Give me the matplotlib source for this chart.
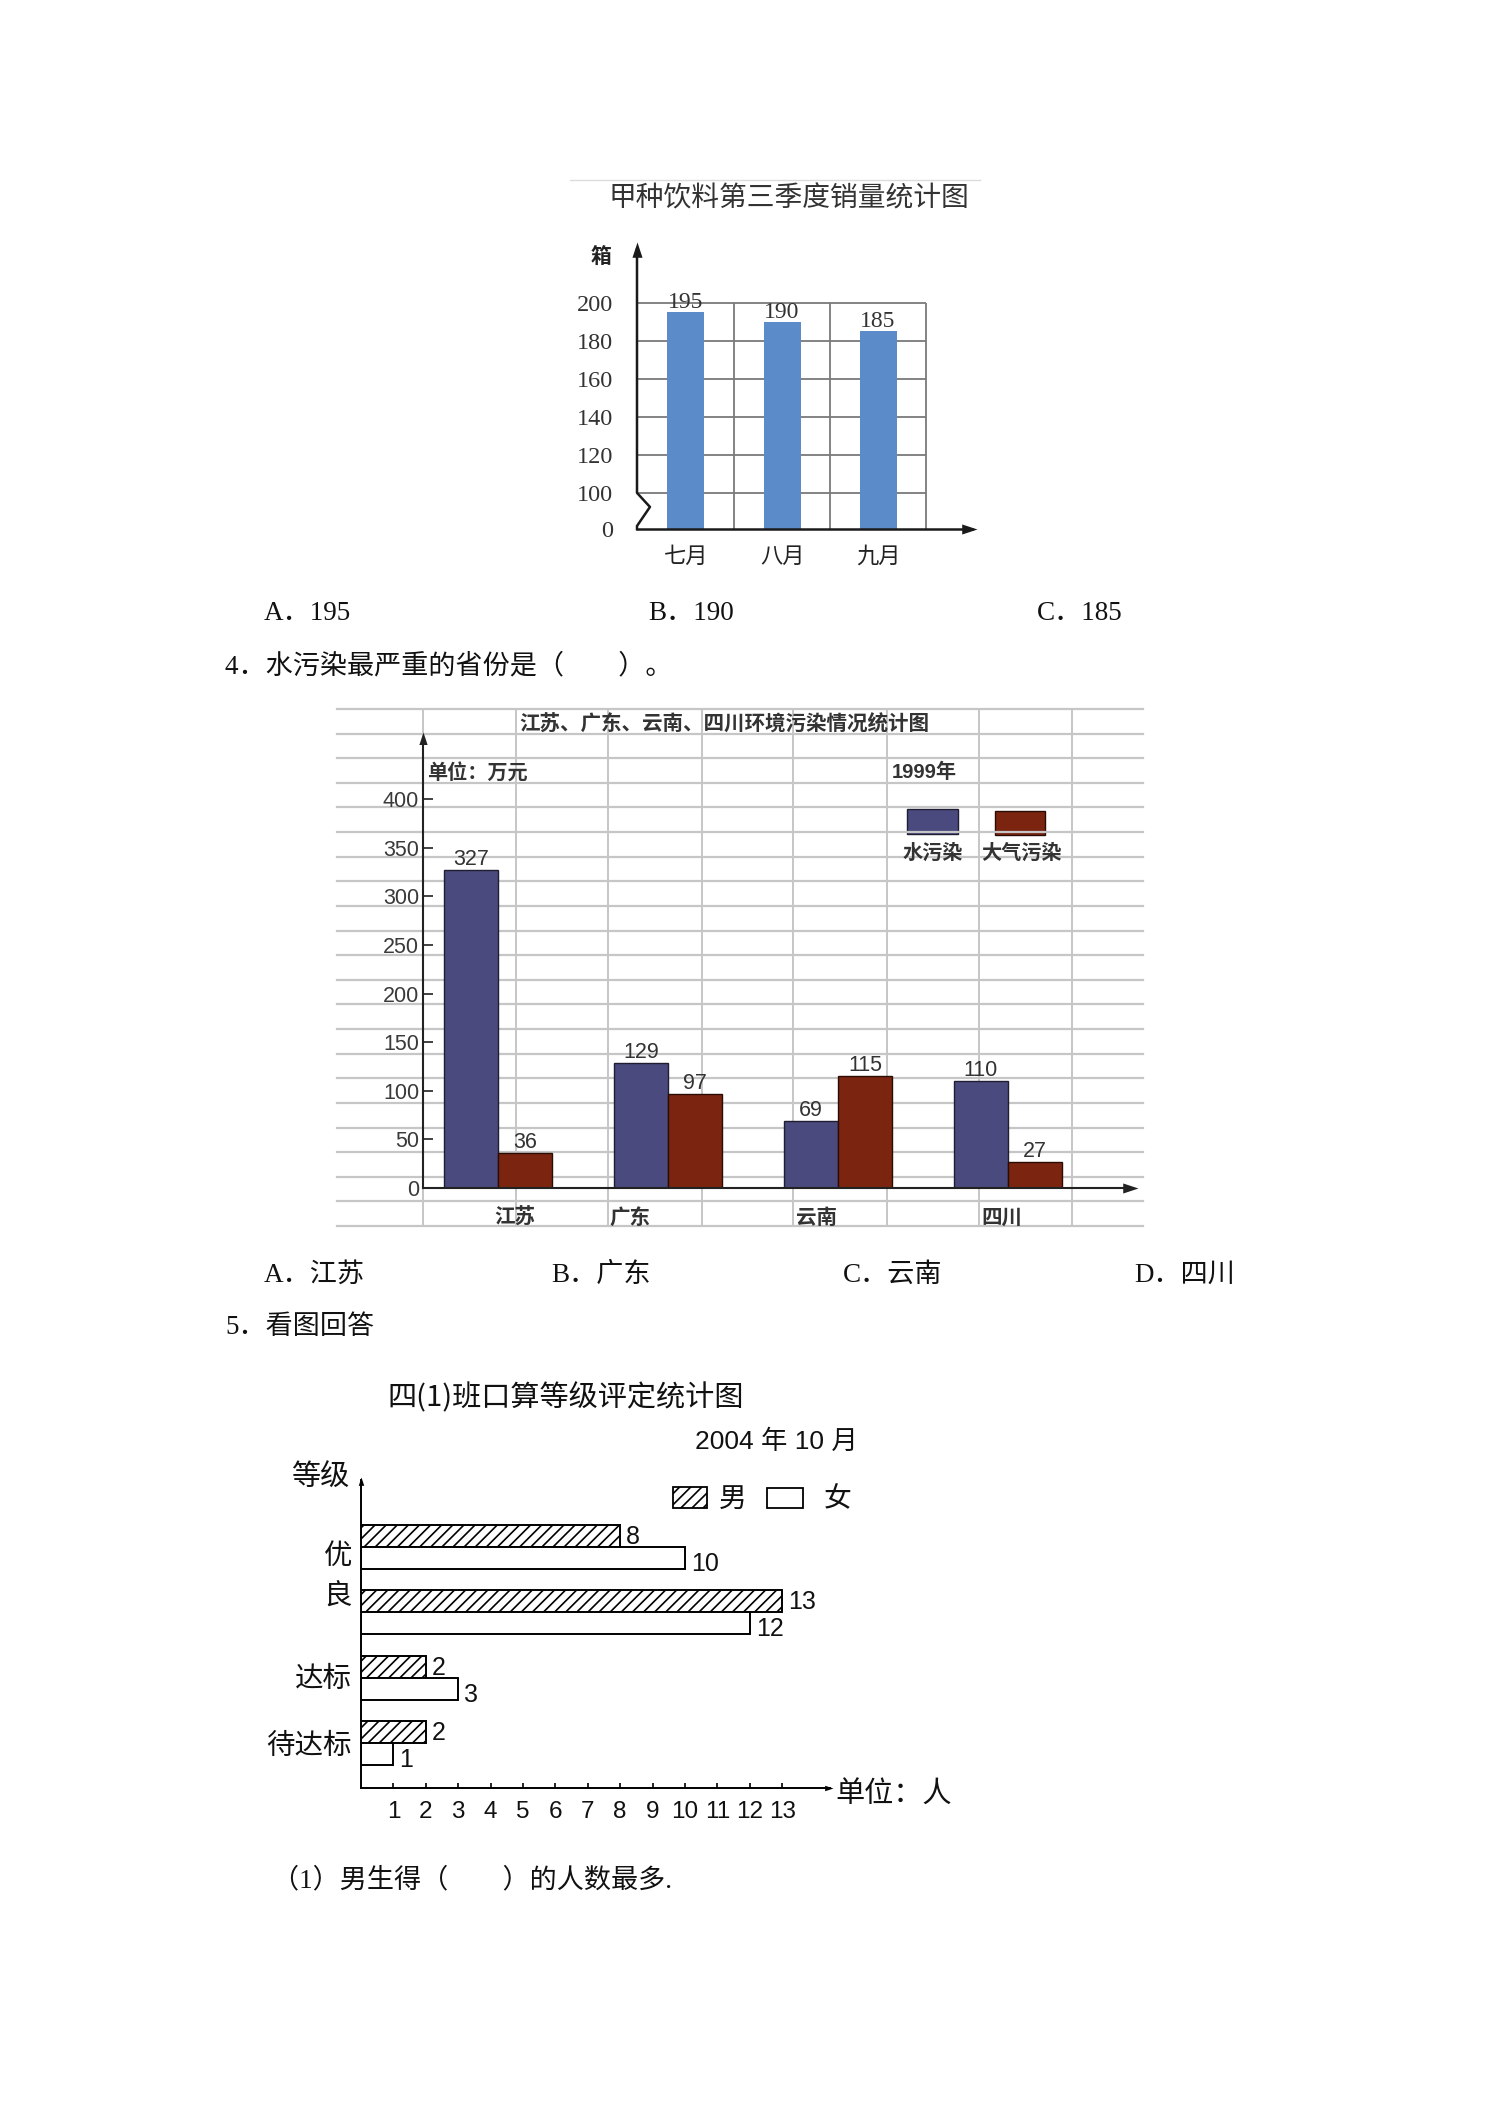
import matplotlib
matplotlib.use('Agg')
import matplotlib.pyplot as plt
import numpy as np
from matplotlib.patches import Rectangle

# ---- chart 1: 甲种饮料第三季度销量 ----
months = ['七月', '八月', '九月']
sales = [195, 190, 185]
sales_ticks = [100, 120, 140, 160, 180, 200]

# ---- chart 2: 环境污染情况 (万元, 1999年) ----
provinces = ['江苏', '广东', '云南', '四川']
water = [327, 129, 69, 110]
air = [36, 97, 115, 27]
pollution_ticks = [0, 50, 100, 150, 200, 250, 300, 350, 400]
pollution_series = ['水污染', '大气污染']

# ---- chart 3: 四(1)班口算等级 ----
grades = ['优', '良', '达标', '待达标']
boys = [8, 13, 2, 2]
girls = [10, 12, 3, 1]
count_ticks = list(range(1, 14))

W, H = 1488, 2104
CJK = 'Noto Sans CJK SC'
SERIF = ['Liberation Serif', CJK]
SANS = ['Liberation Sans', CJK]
NARROW = ['Liberation Sans Narrow', 'Liberation Sans', CJK]
plt.rcParams['font.family'] = [CJK, 'DejaVu Sans']
plt.rcParams['hatch.linewidth'] = 1.2

fig = plt.figure(figsize=(W / 100, H / 100), dpi=100)
page = fig.add_axes([0, 0, 1, 1], zorder=0)
page.set_xlim(0, W)
page.set_ylim(H, 0)
page.axis('off')


def pt(px):
    return px * 0.72


def chart_axes(left, top, right, bottom):
    ax = fig.add_axes([left / W, 1 - bottom / H, (right - left) / W, (bottom - top) / H], zorder=1)
    ax.patch.set_visible(False)
    for s in ax.spines.values():
        s.set_visible(False)
    return ax


RIGHT = [(0, 0), (-1, 0.33), (-1, -0.33), (0, 0)]
UP = [(0, 0), (-0.33, -1), (0.33, -1), (0, 0)]


def arrow_head(ax, x, y, verts, ms, color):
    ax.plot([x], [y], marker=verts, ms=ms, mfc=color, mec=color, mew=0, clip_on=False, zorder=5)


# ================= chart 1 =================
page.plot([570, 980], [180, 180], color='#dcdcdc', lw=1)
page.text(789, 198, '甲种饮料第三季度销量统计图', fontsize=20, color='#333333', ha='center', va='center')

ax1 = chart_axes(637, 242, 977, 529)
base1 = 81
xl1, xr1, yt1 = -0.51, 3.03, 232
ax1.set_xlim(xl1, xr1)
ax1.set_ylim(base1, yt1)
x1 = np.arange(len(months))
ax1.hlines(sales_ticks, xl1, 2.5, color='#7a7a7a', lw=1.3, zorder=1)
ax1.vlines([0.5, 1.5, 2.5], base1, 200, color='#7a7a7a', lw=1.3, zorder=1)
ax1.bar(x1, np.array(sales) - base1, bottom=base1, width=0.385, color='#5b8bc9', zorder=2)
for xi, v in zip(x1, sales):
    ax1.annotate(str(v), (xi, v), xytext=(0, pt(4)), textcoords='offset points', ha='center',
                 va='baseline', fontsize=17, family=SERIF, color='#333333')
ax1.set_yticks([base1] + sales_ticks, ['0'] + [str(t) for t in sales_ticks])
ax1.set_xticks(x1, months)
ax1.tick_params(axis='y', length=0, pad=pt(24), labelsize=17.5, labelcolor='#333333')
ax1.tick_params(axis='x', length=0, pad=pt(16), labelsize=16, labelcolor='#222222')
for lab in ax1.get_yticklabels():
    lab.set_family(SERIF)
ax1.plot([xl1, xl1, xl1 + 0.135, xl1, xl1], [yt1 - 4, 100, 92.6, 82.6, base1],
         color='#1a1a1a', lw=1.8, clip_on=False, zorder=4)
ax1.plot([xl1, xr1 - 0.05], [base1, base1], color='#1a1a1a', lw=1.8, clip_on=False, zorder=4)
arrow_head(ax1, xr1, base1, RIGHT, 22, '#1a1a1a')
arrow_head(ax1, xl1, yt1, UP, 22, '#1a1a1a')
ax1.text(xl1 - 0.37, 224, '箱', fontsize=15, fontweight='bold', color='#222222', ha='center', va='center')

# ================= chart 2 =================
for y in np.linspace(709, 1226, 22):
    page.plot([337, 1143], [y, y], color='#c6c6c6', lw=1.6)
for x in [423, 516, 608, 702, 793, 887, 979, 1072]:
    page.plot([x, x], [709, 1226], color='#c6c6c6', lw=1.4)
page.text(724, 724, '江苏、广东、云南、四川环境污染情况统计图', fontsize=14.8, fontweight='bold',
          color='#333333', ha='center', va='center')
page.text(427, 772, '单位：万元', fontsize=14.5, fontweight='bold', color='#333333', ha='left', va='center')
page.text(892, 772, '1999年', fontsize=14.5, fontweight='bold', color='#333333', ha='left', va='center',
          family=NARROW)

water_c, air_c = '#4a4a7e', '#7b2511'
page.add_patch(Rectangle((907, 809), 51, 25, facecolor=water_c, edgecolor='#1e1e30', lw=1))
page.add_patch(Rectangle((995, 811), 50, 24, facecolor=air_c, edgecolor='#2a0c05', lw=1))
page.text(933, 852, pollution_series[0], fontsize=14.5, fontweight='bold', color='#333333', ha='center', va='center')
page.text(1021, 852, pollution_series[1], fontsize=14.5, fontweight='bold', color='#333333', ha='center', va='center')

ax2 = chart_axes(423, 732, 1138, 1188)
xl2, xr2, yt2 = -0.441, 3.765, 469
ax2.set_xlim(xl2, xr2)
ax2.set_ylim(0, yt2)
x2 = np.arange(len(provinces))
bw2 = 0.318
ax2.bar(x2 - bw2 / 2, water, width=bw2, color=water_c, edgecolor='#1e1e30', lw=1, zorder=2)
ax2.bar(x2 + bw2 / 2, air, width=bw2, color=air_c, edgecolor='#2a0c05', lw=1, zorder=2)
for xs, vals in ((x2 - bw2 / 2, water), (x2 + bw2 / 2, air)):
    for xi, v in zip(xs, vals):
        ax2.annotate(str(v), (xi, v), xytext=(0, pt(5)), textcoords='offset points', ha='center',
                     va='baseline', fontsize=15.5, family=NARROW, color='#333333')
ax2.set_yticks(pollution_ticks)
ax2.tick_params(axis='y', direction='in', length=pt(10), width=1.3, color='#333333', pad=pt(4),
                labelsize=15.5, labelcolor='#3a3a3a')
for lab in ax2.get_yticklabels():
    lab.set_family(NARROW)
ax2.set_xticks([0.1, 0.776, 1.876, 2.965], provinces)
ax2.tick_params(axis='x', length=0, pad=pt(19), labelsize=14.8, labelcolor='#333333')
for lab in ax2.get_xticklabels():
    lab.set_fontweight('bold')
ax2.plot([xl2, xr2 - 0.04], [0, 0], color='#222222', lw=1.5, clip_on=False, zorder=4)
ax2.plot([xl2, xl2], [0, yt2 - 8], color='#222222', lw=1.5, clip_on=False, zorder=4)
arrow_head(ax2, xr2, 0, RIGHT, 22, '#222222')
arrow_head(ax2, xl2, yt2, UP, 18, '#222222')

# ================= chart 3 =================
page.text(566, 1398, '四(1)班口算等级评定统计图', fontsize=21, color='#111111', ha='center', va='center')
page.text(695, 1442, '2004 年 10 月', fontsize=19, family=SANS, color='#111111', ha='left', va='center')
page.text(349, 1478, '等级', fontsize=21, color='#111111', ha='right', va='center')
page.text(835, 1795, '单位：人', fontsize=21, color='#111111', ha='left', va='center')
page.add_patch(Rectangle((673, 1487), 34, 21, facecolor='white', edgecolor='black', lw=1.3, hatch='///'))
page.text(733, 1499, '男', fontsize=20, color='#111111', ha='center', va='center')
page.add_patch(Rectangle((767, 1488), 36, 20, facecolor='white', edgecolor='black', lw=1.3))
page.text(838, 1499, '女', fontsize=20, color='#111111', ha='center', va='center')

ax3 = chart_axes(361, 1477, 833, 1788)
xr3, yb3, yt3 = 14.57, 3.69, -1.072
ax3.set_xlim(0, xr3)
ax3.set_ylim(yb3, yt3)
y3 = np.arange(len(grades))
bh3 = 0.337
ax3.barh(y3 - bh3 / 2, boys, height=bh3, color='white', edgecolor='black', hatch='///', lw=1.4, zorder=2)
ax3.barh(y3 + bh3 / 2, girls, height=bh3, color='white', edgecolor='black', lw=1.4, zorder=2)
for ys, vals, dy in ((y3 - bh3 / 2, boys, -1), (y3 + bh3 / 2, girls, -6)):
    for yi, v in zip(ys, vals):
        ax3.annotate(str(v), (v, yi), xytext=(pt(6), pt(dy)), textcoords='offset points', ha='left',
                     va='center', fontsize=18, family=SANS, color='#111111')
ax3.set_xticks(count_ticks)
ax3.tick_params(axis='x', direction='in', length=pt(5), width=1.2, color='black', pad=pt(13),
                labelsize=17.5, labelcolor='#111111')
for lab in ax3.get_xticklabels():
    lab.set_family(SANS)
ax3.set_yticks([0.08, 0.7, 1.96, 3.0], grades)
ax3.tick_params(axis='y', length=0, pad=pt(9), labelsize=20.5, labelcolor='#111111')
ax3.plot([0, xr3 - 0.1], [yb3, yb3], color='black', lw=1.4, clip_on=False, zorder=4)
ax3.plot([0, 0], [yb3, yt3 + 0.05], color='black', lw=1.4, clip_on=False, zorder=4)
arrow_head(ax3, xr3, yb3, RIGHT, 12, 'black')
arrow_head(ax3, 0, yt3, UP, 12, 'black')

# ================= question text =================
fq = 19.5
for x, s in ((264, 'A．195'), (648, 'B．190'), (1037, 'C．185')):
    page.text(x, 613, s, fontsize=fq, family=SERIF, color='#111111', ha='left', va='center')
page.text(225, 667, '4．水污染最严重的省份是（　　）。', fontsize=fq, family=SERIF, color='#111111', ha='left', va='center')
for x, s in ((264, 'A．江苏'), (551, 'B．广东'), (843, 'C．云南'), (1134, 'D．四川')):
    page.text(x, 1275, s, fontsize=fq, family=SERIF, color='#111111', ha='left', va='center')
page.text(225, 1328, '5．看图回答', fontsize=fq, family=SERIF, color='#111111', ha='left', va='center')
page.text(272, 1881, '（1）男生得（　　）的人数最多.', fontsize=fq, family=SERIF, color='#111111', ha='left', va='center')

fig.savefig('out.png', dpi=100, facecolor='white')
